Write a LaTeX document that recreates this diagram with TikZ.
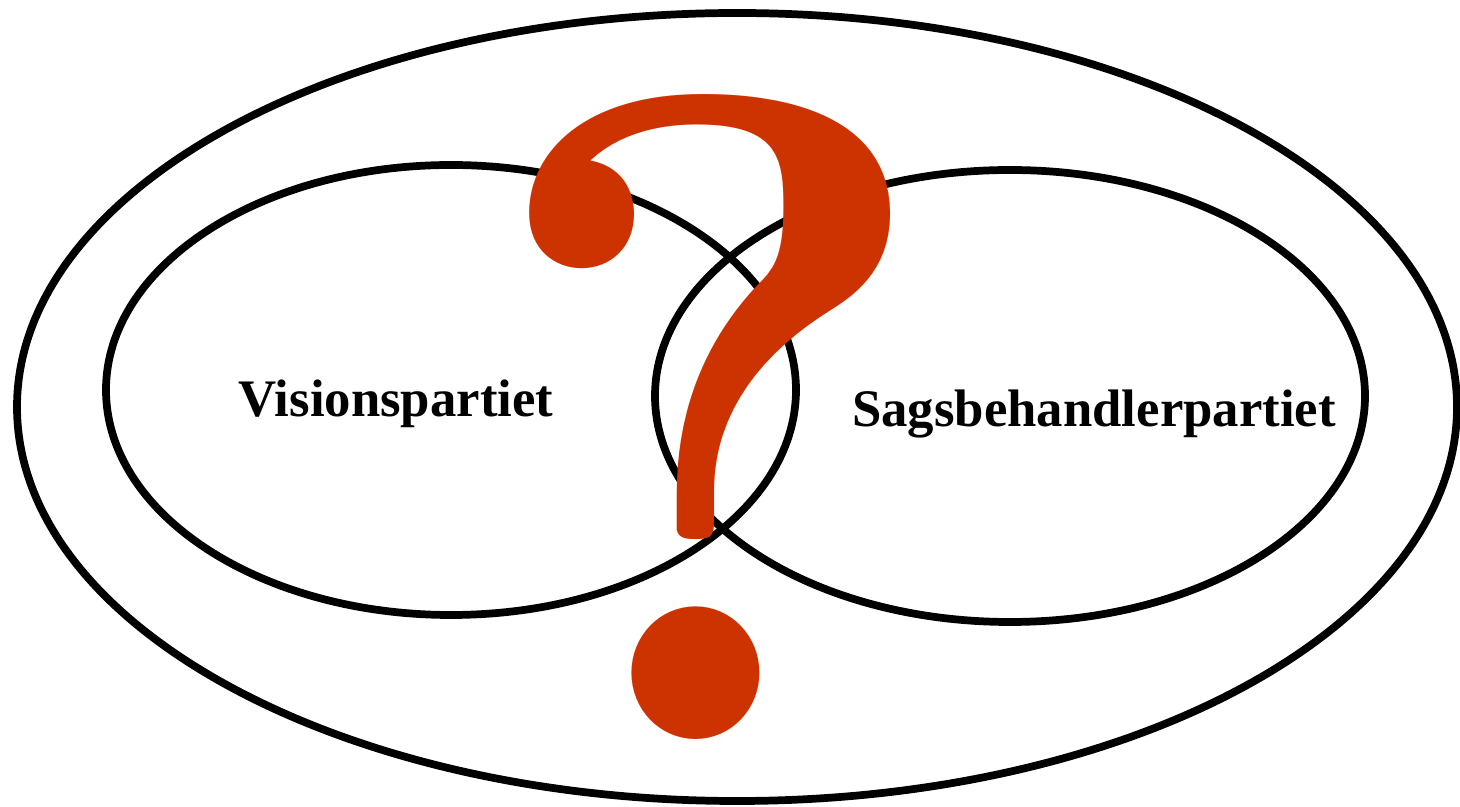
\documentclass[tikz,border=0pt]{standalone}
\usepackage{fontspec}
\setmainfont{Liberation Serif}
\newfontfamily\questfont{Latin Modern Roman}
\usetikzlibrary{positioning}
\definecolor{qred}{HTML}{CC3300}

\begin{document}
\begin{tikzpicture}[x=0.01cm, y=-0.01cm,
  ring/.style={line width=2.2pt},
  party/.style={font=\fontsize{15}{18}\selectfont\bfseries, inner sep=0pt, anchor=base}]
\useasboundingbox (0,0) rectangle (1460,807);
% outer ellipse
\draw[ring] (737,407) ellipse [x radius=720, y radius=394];
% the two parties
\draw[ring] (451,390) ellipse [x radius=345, y radius=225];
\draw[ring] (1010,396) ellipse [x radius=355, y radius=226];
\node[party] (vision) at (396,417) {Visionspartiet};
\node[party] (sags) at (1094,427) {Sagsbehandlerpartiet};
% question mark on top
\node[text=qred, inner sep=0pt, xscale=0.965, font=\questfont\fontsize{262}{262}\selectfont\bfseries] (quest) at (711,417) {?};
\end{tikzpicture}
\end{document}
